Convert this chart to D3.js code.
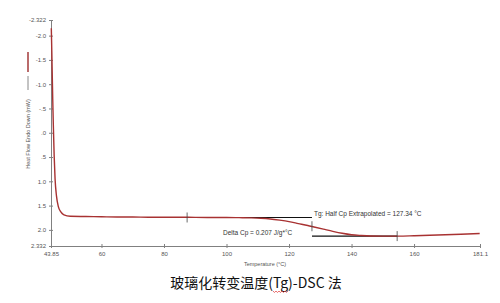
<!DOCTYPE html>
<html>
<head>
<meta charset="utf-8">
<script src="https://cdn.jsdelivr.net/npm/d3@7"></script>
<style>
  body { margin: 0; background: #fff; }
  text { font-family: "Liberation Sans", Arial, sans-serif; }
</style>
</head>
<body>
<div id="chart"></div>
<script>
var width = 500, height = 303;

// DSC curve, temperature (°C) vs heat flow (mW), endo down
var temps = [43.95, 44.1, 44.25, 44.4, 44.6, 44.85, 45.15, 45.6, 46.2, 47.0, 48.0, 50, 55, 60, 65, 70, 75, 80, 85, 90, 95, 100, 104, 108, 111, 114, 117, 120, 123, 126, 128, 131, 134, 137, 140, 143, 146, 150, 155, 160, 165, 170, 175, 181];
var flow  = [-2.15, -1.7, -1.2, -0.7, -0.15, 0.45, 0.95, 1.3, 1.52, 1.63, 1.69, 1.72, 1.725, 1.73, 1.735, 1.735, 1.74, 1.74, 1.74, 1.742, 1.745, 1.745, 1.748, 1.752, 1.76, 1.775, 1.8, 1.83, 1.87, 1.91, 1.94, 1.985, 2.03, 2.07, 2.1, 2.115, 2.125, 2.128, 2.128, 2.12, 2.11, 2.1, 2.09, 2.075];

var xTicks = [43.85, 60, 80, 100, 120, 140, 160, 181.1];
var xTickLabels = ["43.85", "60", "80", "100", "120", "140", "160", "181.1"];
var yTicks = [-2.322, -2.0, -1.5, -1.0, -0.5, 0.0, 0.5, 1.0, 1.5, 2.0, 2.332];
var yTickLabels = ["-2.322", "-2.0", "-1.5", "-1.0", "-.5", ".0", ".5", "1.0", "1.5", "2.0", "2.332"];

// Tg analysis: onset, midpoint, end temperatures and baseline levels
var tgTemps = [87.4, 127.34, 154.6];
var baseLevels = [1.745, 2.128];
var tgMidFlow = 1.925;
var tgLabel = "Tg: Half Cp Extrapolated = 127.34 °C";
var dcpLabel = "Delta Cp = 0.207 J/g*°C";
var xTitle = "Temperature (°C)";
var yTitle = "Heat Flow Endo Down (mW)";
var caption = "玻璃化转变温度(Tg)-DSC 法";

var svg = d3.select("#chart").append("svg")
  .attr("width", width).attr("height", height);

var x = d3.scaleLinear().domain([43.85, 181.1]).range([51, 480]);
var y = d3.scaleLinear().domain([-2.322, 2.332]).range([20, 246]);

var axisColor = "#808080", labelColor = "#555";

// y axis
var yAxis = svg.append("g").attr("transform", "translate(51,0)")
  .call(d3.axisLeft(y).tickValues(yTicks).tickSize(2).tickSizeOuter(0)
    .tickFormat(function(d, i) { return yTickLabels[i]; }));
yAxis.selectAll("line").attr("stroke", axisColor).attr("x2", 2).attr("x1", -2);
yAxis.select(".domain").attr("stroke", axisColor);
yAxis.selectAll("text").attr("fill", labelColor).attr("font-size", "6px").attr("x", -5)
  .attr("font-family", "Liberation Sans, Arial, sans-serif");

// x axis
var xAxis = svg.append("g").attr("transform", "translate(0,246)")
  .call(d3.axisBottom(x).tickValues(xTicks).tickSize(2).tickSizeOuter(0)
    .tickFormat(function(d, i) { return xTickLabels[i]; }));
xAxis.selectAll("line").attr("stroke", axisColor).attr("y1", -2).attr("y2", 2);
xAxis.select(".domain").attr("stroke", axisColor);
xAxis.selectAll("text").attr("fill", labelColor).attr("font-size", "6px").attr("y", 6)
  .attr("font-family", "Liberation Sans, Arial, sans-serif");

// axis titles
svg.append("text").attr("x", 265).attr("y", 266).attr("text-anchor", "middle")
  .attr("font-size", "5.5px").attr("fill", labelColor).text(xTitle);
svg.append("text").attr("transform", "translate(30,134) rotate(-90)").attr("text-anchor", "middle")
  .attr("font-size", "5.5px").attr("fill", labelColor).text(yTitle);
// legend swatch beside the y title
svg.append("line").attr("x1", 28).attr("x2", 28).attr("y1", 52).attr("y2", 72)
  .attr("stroke", "#a33a3a").attr("stroke-width", 1.5);
svg.append("line").attr("x1", 28).attr("x2", 28).attr("y1", 76).attr("y2", 90)
  .attr("stroke", "#888").attr("stroke-width", 1);

// baselines
svg.append("line").attr("x1", x(tgTemps[0])).attr("x2", x(tgTemps[1]))
  .attr("y1", y(baseLevels[0])).attr("y2", y(baseLevels[0]))
  .attr("stroke", "#111").attr("stroke-width", 1.2);
svg.append("line").attr("x1", x(tgTemps[1])).attr("x2", x(tgTemps[2]))
  .attr("y1", y(baseLevels[1])).attr("y2", y(baseLevels[1]))
  .attr("stroke", "#111").attr("stroke-width", 1.2);

// curve
var line = d3.line().x(function(d) { return x(d[0]); }).y(function(d) { return y(d[1]); })
  .curve(d3.curveMonotoneX);
svg.append("path").datum(d3.zip(temps, flow)).attr("d", line)
  .attr("fill", "none").attr("stroke", "#a83232").attr("stroke-width", 1.4);

// tick marks on analysis
var marks = [[tgTemps[0], baseLevels[0]], [tgTemps[1], tgMidFlow], [tgTemps[2], baseLevels[1]]];
svg.selectAll(".mk").data(marks).enter().append("line")
  .attr("x1", function(d) { return x(d[0]); }).attr("x2", function(d) { return x(d[0]); })
  .attr("y1", function(d) { return y(d[1]) - 5; }).attr("y2", function(d) { return y(d[1]) + 5; })
  .attr("stroke", "#444").attr("stroke-width", 0.8);

svg.append("text").attr("x", x(tgTemps[1]) + 2).attr("y", y(baseLevels[0]) - 1)
  .attr("font-size", "6.5px").attr("fill", "#333").text(tgLabel);
svg.append("text").attr("x", 223).attr("y", y(baseLevels[1]) - 1)
  .attr("font-size", "6.5px").attr("fill", "#333").text(dcpLabel);

// caption
var cap = svg.append("text").attr("x", 256).attr("y", 288).attr("text-anchor", "middle")
  .attr("font-size", "14px").attr("fill", "#111")
  .style("font-family", "'Noto Sans CJK SC', sans-serif").text(caption);

// red wavy spell-check underline under "Tg"
var iT = caption.indexOf("Tg");
var b0 = cap.node().getExtentOfChar(iT), b1 = cap.node().getExtentOfChar(iT + 1);
var wx0 = b0.x, wx1 = b1.x + b1.width, wy = 291.5, pts = [];
for (var wx = wx0, k = 0; wx <= wx1; wx += 1.5, k++) pts.push([wx, wy + (k % 2 ? 1 : -0.5)]);
svg.append("path").attr("d", d3.line()(pts)).attr("fill", "none")
  .attr("stroke", "#e03030").attr("stroke-width", 0.7);
</script>
</body>
</html>
